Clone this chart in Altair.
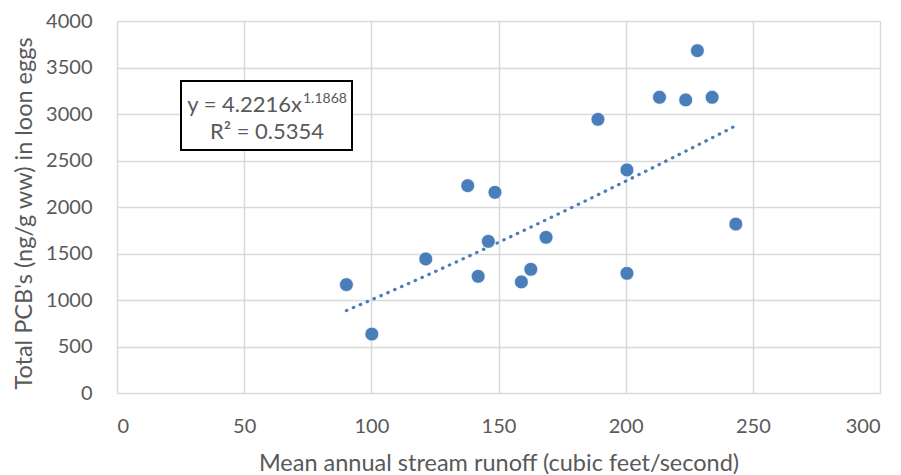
import altair as alt
import pandas as pd

# Data
runoff = [90.2, 100.2, 121.4, 137.9, 142.0, 146.0, 148.6, 159.0, 162.7, 168.7,
          189.1, 200.5, 200.5, 213.3, 223.6, 228.2, 234.0, 243.3]
pcb = [1165, 634, 1441, 2229, 1255, 1631, 2158, 1194, 1330, 1674,
       2943, 2398, 1287, 3180, 3151, 3681, 3180, 1817]
x_ticks = [0, 50, 100, 150, 200, 250, 300]
y_ticks = [0, 500, 1000, 1500, 2000, 2500, 3000, 3500, 4000]
eq_main = "y = 4.2216x"
eq_sup = "1.1868"
eq_r2 = "R² = 0.5354"

df = pd.DataFrame({"runoff": runoff, "pcb": pcb})

FONT = "Lato"
TXT = "#595959"
BLUE = "#4A7EBB"

xenc = alt.X("runoff:Q", scale=alt.Scale(domain=[0, 300], nice=False),
             axis=alt.Axis(values=x_ticks, format="d",
                           title="Mean annual stream runoff (cubic feet/second)",
                           titleY=77, titleBaseline="alphabetic", labelPadding=23))
yenc = alt.Y("pcb:Q", scale=alt.Scale(domain=[0, 4000], nice=False),
             axis=alt.Axis(values=y_ticks, format="d",
                           title="Total PCB's (ng/g ww) in loon eggs",
                           titleX=-93, titleY=192, titleBaseline="middle", labelPadding=25))

points = alt.Chart(df).mark_circle(size=190, color=BLUE, opacity=1,
                                   stroke="white", strokeWidth=0.6).encode(x=xenc, y=yenc)

trend = alt.Chart(df).transform_regression(
    "runoff", "pcb", method="pow"
).mark_line(color=BLUE, strokeWidth=3.2, strokeDash=[0.5, 7], strokeCap="round").encode(
    x="runoff:Q", y="pcb:Q")

one = alt.Data(values=[{"a": 1}])
box = alt.Chart(one).mark_rect(fill="white", stroke="black", strokeWidth=2).encode(
    x=alt.value(64), x2=alt.value(235), y=alt.value(60), y2=alt.value(129))
t1 = alt.Chart(one).mark_text(text=eq_main, font=FONT, fontSize=22, color=TXT,
                              align="right", baseline="alphabetic").encode(
    x=alt.value(185), y=alt.value(91))
t2 = alt.Chart(one).mark_text(text=eq_sup, font=FONT, fontSize=14, color=TXT,
                              align="left", baseline="alphabetic").encode(
    x=alt.value(186), y=alt.value(82))
t3 = alt.Chart(one).mark_text(text=eq_r2, font=FONT, fontSize=22, color=TXT,
                              align="center", baseline="alphabetic").encode(
    x=alt.value(150), y=alt.value(118))

chart = alt.layer(trend, points, box, t1, t2, t3).properties(
    width=763, height=372,
    autosize=alt.AutoSizeParams(type="none"),
    padding={"left": 109, "top": 13, "right": 13, "bottom": 81},
).configure_view(stroke=None).configure_axis(
    grid=True, gridColor="#D9D9D9", gridWidth=1.5, domain=False, ticks=False,
    labelFont=FONT, labelFontSize=20, labelColor=TXT,
    titleFont=FONT, titleFontSize=23.5, titleColor=TXT, titleFontWeight="normal",
)

chart.save("out.html", embed_options={"renderer": "svg", "actions": False})
